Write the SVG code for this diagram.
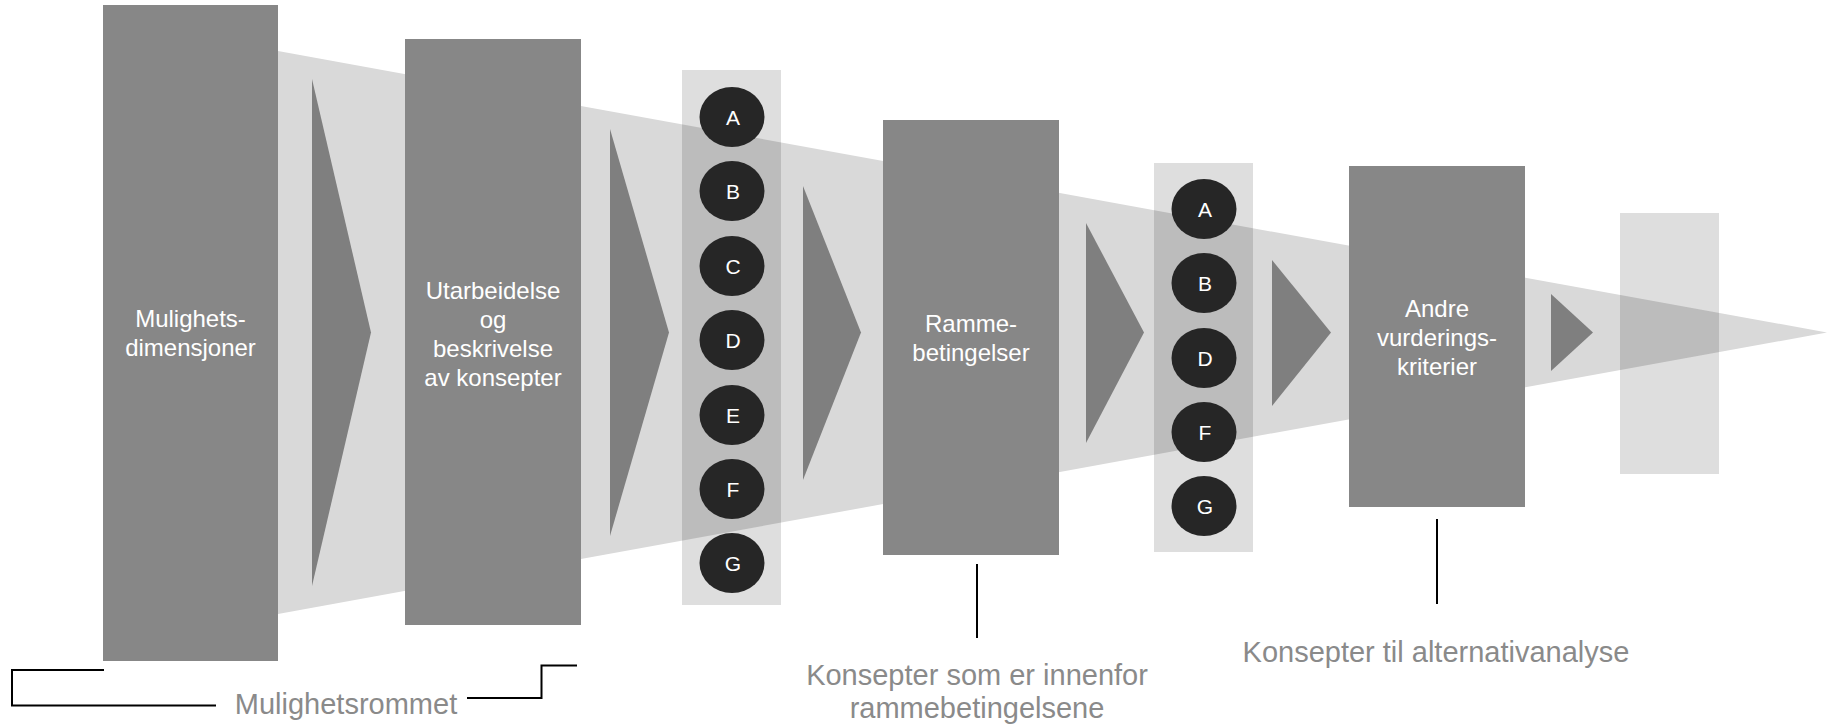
<svg xmlns="http://www.w3.org/2000/svg" width="1834" height="726" viewBox="0 0 1834 726">
<style>
.box{fill:#878787}
.tri{fill:#7f7f7f}
.panel{fill:#dedede}
.panelov{fill:#bcbcbc}
.circ{fill:#262626}
.lt{font-family:"Liberation Sans",Arial,sans-serif;font-size:21px;fill:#ffffff;text-anchor:middle}
.bt{font-family:"Liberation Sans",Arial,sans-serif;font-size:24px;fill:#ffffff;text-anchor:middle}
.cap{font-family:"Liberation Sans",Arial,sans-serif;font-size:29px;fill:#8a8a8a;text-anchor:middle}
.ln{fill:none;stroke:#000000;stroke-width:2}
</style>
<defs>
<clipPath id="funnelClip"><polygon points="278,51 1827,332.5 278,614"/></clipPath>
</defs>
<rect width="1834" height="726" fill="#ffffff"/>
<g id="funnel"><polygon points="278,51 1827,332.5 278,614" fill="#d9d9d9"/></g>

<g id="box1"><rect class="box" x="103" y="5" width="175" height="656"/>
<text class="bt" x="190.5" y="327">Mulighets-</text>
<text class="bt" x="190.5" y="356">dimensjoner</text></g>

<g id="tri1"><polygon class="tri" points="312,79 371,332.5 312,586"/></g>

<g id="box2"><rect class="box" x="405" y="39" width="176" height="586"/>
<text class="bt" x="493" y="299">Utarbeidelse</text>
<text class="bt" x="493" y="328">og</text>
<text class="bt" x="493" y="357">beskrivelse</text>
<text class="bt" x="493" y="386">av konsepter</text></g>

<g id="tri2"><polygon class="tri" points="610,129 669,332.5 610,536"/></g>

<g id="panel1"><rect class="panel" x="682" y="70" width="99" height="535"/>
<rect class="panelov" x="682" y="70" width="99" height="535" clip-path="url(#funnelClip)"/>
<ellipse class="circ" cx="732" cy="117" rx="32.5" ry="30"/><text class="lt" x="733" y="124.5">A</text>
<ellipse class="circ" cx="732" cy="191" rx="32.5" ry="30"/><text class="lt" x="733" y="198.5">B</text>
<ellipse class="circ" cx="732" cy="266" rx="32.5" ry="30"/><text class="lt" x="733" y="273.5">C</text>
<ellipse class="circ" cx="732" cy="340" rx="32.5" ry="30"/><text class="lt" x="733" y="347.5">D</text>
<ellipse class="circ" cx="732" cy="415" rx="32.5" ry="30"/><text class="lt" x="733" y="422.5">E</text>
<ellipse class="circ" cx="732" cy="489" rx="32.5" ry="30"/><text class="lt" x="733" y="496.5">F</text>
<ellipse class="circ" cx="732" cy="563" rx="32.5" ry="30"/><text class="lt" x="733" y="570.5">G</text></g>

<g id="tri3"><polygon class="tri" points="803,186 861,332.5 803,480"/></g>

<g id="box3"><rect class="box" x="883" y="120" width="176" height="435"/>
<text class="bt" x="971" y="332">Ramme-</text>
<text class="bt" x="971" y="361">betingelser</text></g>

<g id="tri4"><polygon class="tri" points="1086,223 1144,332.5 1086,443"/></g>

<g id="panel2"><rect class="panel" x="1154" y="163" width="99" height="389"/>
<rect class="panelov" x="1154" y="163" width="99" height="389" clip-path="url(#funnelClip)"/>
<ellipse class="circ" cx="1204" cy="209" rx="32.5" ry="30"/><text class="lt" x="1205" y="216.5">A</text>
<ellipse class="circ" cx="1204" cy="283" rx="32.5" ry="30"/><text class="lt" x="1205" y="290.5">B</text>
<ellipse class="circ" cx="1204" cy="358" rx="32.5" ry="30"/><text class="lt" x="1205" y="365.5">D</text>
<ellipse class="circ" cx="1204" cy="432" rx="32.5" ry="30"/><text class="lt" x="1205" y="439.5">F</text>
<ellipse class="circ" cx="1204" cy="506" rx="32.5" ry="30"/><text class="lt" x="1205" y="513.5">G</text></g>

<g id="tri5"><polygon class="tri" points="1272,260 1331,332.5 1272,406"/></g>

<g id="box4"><rect class="box" x="1349" y="166" width="176" height="341"/>
<text class="bt" x="1437" y="317">Andre</text>
<text class="bt" x="1437" y="346">vurderings-</text>
<text class="bt" x="1437" y="375">kriterier</text></g>

<g id="tri6"><polygon class="tri" points="1551,294 1593,332.5 1551,371"/></g>

<g id="panel3"><rect class="panel" x="1620" y="213" width="99" height="261"/>
<rect class="panelov" x="1620" y="213" width="99" height="261" clip-path="url(#funnelClip)"/></g>

<g id="connectors">
<polyline class="ln" points="104,670 12,670 12,705.5 216,705.5"/>
<polyline class="ln" points="467,698 541.5,698 541.5,665.5 577,665.5"/>
<line class="ln" x1="977" y1="564" x2="977" y2="638"/>
<line class="ln" x1="1437" y1="519" x2="1437" y2="604"/>
</g>

<g id="labels">
<text class="cap" x="346" y="714">Mulighetsrommet</text>
<text class="cap" x="977" y="685">Konsepter som er innenfor</text>
<text class="cap" x="977" y="718">rammebetingelsene</text>
<text class="cap" x="1436" y="662">Konsepter til alternativanalyse</text>
</g>
</svg>
